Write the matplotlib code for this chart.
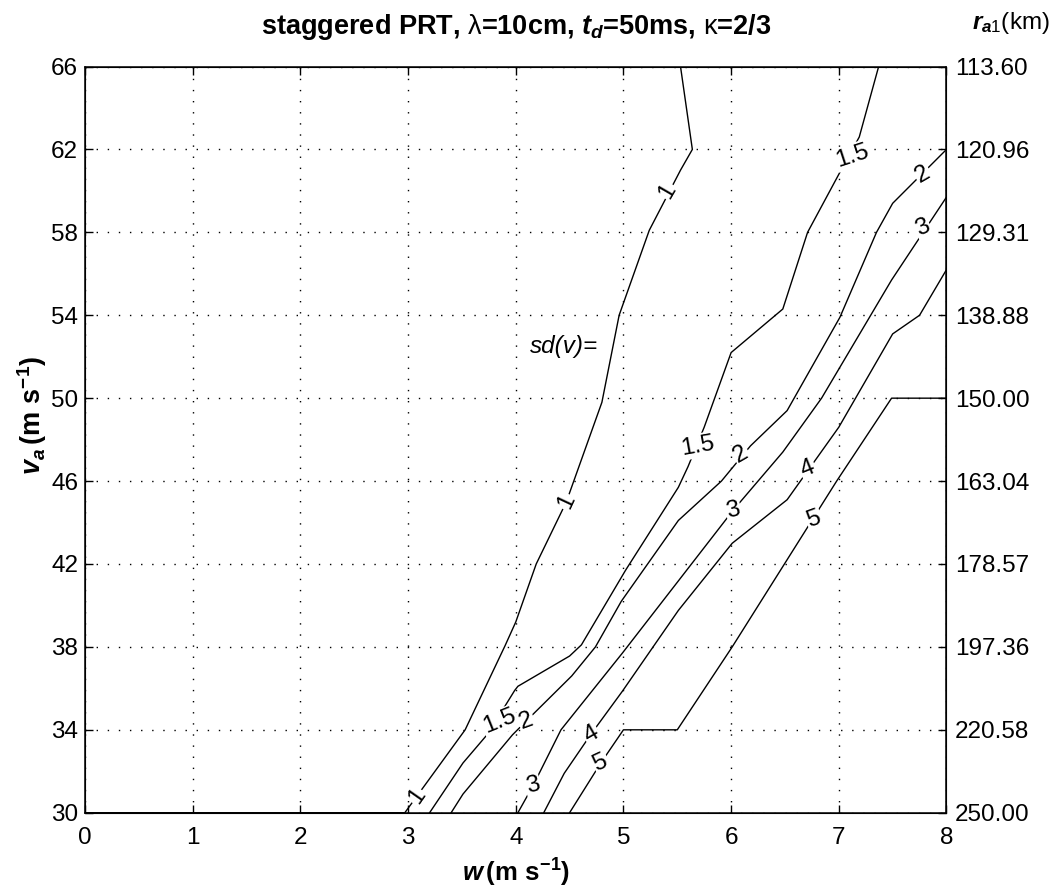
import numpy as np
import matplotlib
matplotlib.use('Agg')
import matplotlib.pyplot as plt

plt.rcParams['font.family'] = 'Liberation Sans'
plt.rcParams['mathtext.fontset'] = 'custom'
plt.rcParams['mathtext.rm'] = 'Liberation Sans'
plt.rcParams['mathtext.it'] = 'Liberation Sans:italic:bold'
plt.rcParams['mathtext.bf'] = 'Liberation Sans:bold'

# contour lines of sd(v): w (m/s) and v_a (m/s)
c1_w = [0.0, 2.97, 3.53, 3.9, 4.0, 4.19, 4.47, 4.8, 4.96, 5.24, 5.53, 5.64, 5.53]
c1_va = [30.0, 30.0, 34.0, 38.05, 39.2, 42.0, 45.0, 49.8, 54.0, 58.1, 61.0, 62.0, 66.0]
c15_w = [3.2, 3.51, 3.74, 3.99, 4.02, 4.5, 4.61, 5.02, 5.51, 5.6, 5.75, 6.0, 6.48, 6.71, 7.0, 7.19, 7.37]
c15_va = [30.0, 32.4, 33.8, 35.9, 36.1, 37.56, 38.1, 41.7, 45.7, 46.7, 48.6, 52.2, 54.3, 58.0, 60.8, 62.6, 66.0]
c2_w = [3.4, 3.51, 3.97, 4.17, 4.52, 4.74, 4.98, 5.51, 5.91, 6.18, 6.52, 7.01, 7.35, 7.5, 8.0]
c2_va = [30.0, 30.9, 33.76, 34.8, 36.6, 38.0, 40.2, 44.1, 46.0, 47.7, 49.4, 53.9, 58.0, 59.4, 62.0]
c3_w = [4.02, 4.16, 4.42, 4.52, 4.99, 6.02, 6.25, 6.48, 6.84, 7.49, 8.0]
c3_va = [30.0, 31.3, 34.0, 34.65, 37.7, 44.6, 46.0, 47.4, 50.0, 55.7, 59.7]
c4_w = [4.26, 4.45, 4.7, 4.99, 5.51, 6.01, 6.52, 7.0, 7.5, 7.75, 8.0]
c4_va = [30.0, 31.9, 33.8, 35.86, 39.76, 43.0, 45.1, 48.6, 53.1, 54.0, 56.2]
c5_w = [4.5, 4.79, 5.0, 5.5, 6.01, 6.98, 7.49, 8.0]
c5_va = [30.0, 32.4, 34.0, 34.0, 38.0, 46.0, 50.0, 50.0]

levels = ['1', '1.5', '2', '3', '4', '5']
lines_w = [c1_w, c15_w, c2_w, c3_w, c4_w, c5_w]
lines_va = [c1_va, c15_va, c2_va, c3_va, c4_va, c5_va]

# inline labels: level, w, v_a, text angle
clabels = [('1', 3.08, 30.8, 55), ('1', 4.47, 45.0, 65), ('1', 5.41, 60.0, 60),
           ('1.5', 3.85, 34.4, 22), ('1.5', 5.69, 47.7, 10), ('1.5', 7.13, 61.7, 18),
           ('2', 4.1, 34.4, 20), ('2', 6.09, 47.3, 30), ('2', 7.78, 60.8, 30),
           ('3', 4.16, 31.3, 15), ('3', 6.02, 44.6, 15), ('3', 7.78, 58.2, 25),
           ('4', 4.7, 33.8, 30), ('4', 6.71, 46.6, 22),
           ('5', 4.79, 32.4, 25), ('5', 6.77, 44.15, 20)]

w_ticks = [0, 1, 2, 3, 4, 5, 6, 7, 8]
va_ticks = [30, 34, 38, 42, 46, 50, 54, 58, 62, 66]
ra_labels = ['250.00', '220.58', '197.36', '178.57', '163.04',
             '150.00', '138.88', '129.31', '120.96', '113.60']

fig = plt.figure(figsize=(10.56, 8.94), dpi=100, facecolor='white')
ax = fig.add_axes([0.0805, 0.0909, 0.8158, 0.8347])

for w, va in zip(lines_w, lines_va):
    ax.plot(w, va, color='black', lw=1.0)

for txt, x, y, rot in clabels:
    ax.text(x, y, txt, fontsize=17.5, ha='center', va='center', rotation=rot,
            rotation_mode='anchor',
            bbox=dict(boxstyle='square,pad=0.05', fc='white', ec='none'))

ax.text(4.45, 52.5, 'sd(v)=', fontsize=17.5, style='italic', ha='center', va='center')

ax.set_xlim(0, 8)
ax.set_ylim(30, 66)
ax.set_xticks(w_ticks)
ax.set_yticks(va_ticks)
ax.grid(True, color='black', lw=1.0, linestyle=(0, (1, 7)))
ax.tick_params(direction='in', length=6, width=1, labelsize=17.5,
               top=True, right=False)
ax.tick_params(axis='x', pad=10)
ax.tick_params(axis='y', pad=5)
for s in ax.spines.values():
    s.set_linewidth(1.1)

ax2 = ax.twinx()
ax2.set_ylim(30, 66)
ax2.set_yticks(va_ticks)
ax2.set_yticklabels(ra_labels)
ax2.tick_params(direction='in', length=6, width=1, labelsize=17.5, pad=6)

fig.text(0.4884, 0.962, r'staggered PRT, $\mathrm{\lambda}$=10cm, $\mathit{t_d}$=50ms, $\mathrm{\kappa}$=2/3',
         fontsize=19.5, fontweight='bold', ha='center', va='baseline')
fig.text(0.994, 0.968, r'$\mathit{r_{a1}}$(km)', fontsize=17.5, ha='right', va='baseline')
fig.text(0.4884, 0.014, r'$\mathit{w}\,\mathbf{(m\ s^{-1})}$', fontsize=18.5, ha='center', va='baseline')
fig.text(0.03, 0.535, r'$\mathit{v_a}\,\mathbf{(m\ s^{-1})}$', fontsize=19.5, rotation=90,
         ha='center', va='center')

fig.savefig('out.png', dpi=100)
